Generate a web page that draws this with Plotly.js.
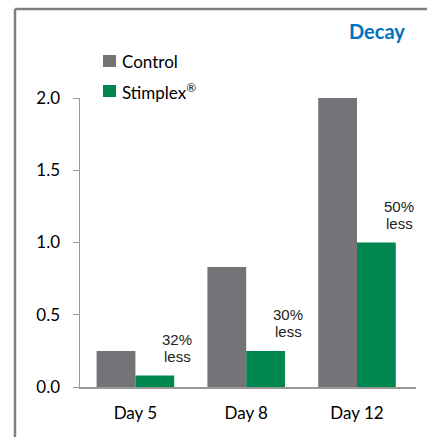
<!DOCTYPE html>
<html><head><meta charset="utf-8">
<script src="https://cdn.plot.ly/plotly-3.0.1.min.js"></script>
<style>html,body{margin:0;padding:0;background:#fff;}#c{width:427px;height:437px;}</style>
</head><body><div id="c"></div>
<script>
const categories = ["Day 5", "Day 8", "Day 12"];
const controlValues = [0.25, 0.83, 2.0];
const stimplexValues = [0.08, 0.25, 1.0];
const seriesNames = ["Control", "Stimplex<sup>®</sup>"];
const reductionPercents = ["32%", "30%", "50%"];
const reductionWord = "less";
const tickValues = [0, 0.5, 1.0, 1.5, 2.0];

const gray = "#747378", green = "#00874F";
const traces = [
  {type: "bar", x: categories, y: controlValues, name: seriesNames[0], marker: {color: gray}},
  {type: "bar", x: categories, y: stimplexValues, name: seriesNames[1], marker: {color: green}}
];
const annFont = {family: "Liberation Sans, Arial", size: 15, color: "#222"};
const annotations = [];
categories.forEach((c, i) => {
  annotations.push({x: c, y: stimplexValues[i], xref: "x", yref: "y", text: reductionPercents[i],
    showarrow: false, xshift: 42, yshift: 36, yanchor: "middle", font: annFont});
  annotations.push({x: c, y: stimplexValues[i], xref: "x", yref: "y", text: reductionWord,
    showarrow: false, xshift: 42, yshift: 19, yanchor: "middle", font: annFont});
});
const px = x => (x - 80) / 336, py = y => (387 - y) / 289;
annotations.push({xref: "paper", yref: "paper", x: px(407), y: py(31), xanchor: "right", yanchor: "middle",
  text: "<b>Decay</b>", showarrow: false, font: {family: "Lato, sans-serif", size: 20, color: "#0070C0"}});
const legendColors = [gray, green];
const legendY = [61, 91];
const shapes = [
  {type: "line", xref: "paper", yref: "paper", x0: px(15), x1: px(15), y0: py(9), y1: py(440), line: {color: "#7f7f7f", width: 2.5}},
  {type: "line", xref: "paper", yref: "paper", x0: px(15), x1: px(430), y0: py(9), y1: py(9), line: {color: "#7f7f7f", width: 2.5}}
];
seriesNames.forEach((n, i) => {
  shapes.push({type: "rect", xref: "paper", yref: "paper", x0: px(103), x1: px(116), y0: py(legendY[i] - 6), y1: py(legendY[i] + 6),
    fillcolor: legendColors[i], line: {width: 0}});
  annotations.push({xref: "paper", yref: "paper", x: px(120), y: py(legendY[i]), xanchor: "left", yanchor: "middle",
    text: n, showarrow: false, font: {family: "Lato, sans-serif", size: 17, color: "#000"}});
});
const layout = {
  width: 427, height: 437,
  margin: {l: 80, r: 11, t: 98, b: 50, autoexpand: false},
  paper_bgcolor: "#fff", plot_bgcolor: "#fff",
  barmode: "group", bargap: 0.3, bargroupgap: 0,
  font: {family: "Lato, sans-serif", color: "#000"},
  xaxis: {showline: true, linecolor: "#999", linewidth: 1.5, ticks: "", tickfont: {size: 17}, ticklabelstandoff: 10, fixedrange: true},
  yaxis: {range: [0, 2], tickvals: tickValues, tickformat: ".1f", showgrid: false, zeroline: false,
    showline: true, linecolor: "#999", linewidth: 1.5, ticks: "outside", ticklen: 6, tickcolor: "#999",
    tickfont: {size: 17}, ticklabelstandoff: 9, fixedrange: true},
  showlegend: false,
  annotations: annotations,
  shapes: shapes
};
Plotly.newPlot("c", traces, layout, {displayModeBar: false, staticPlot: true});
</script></body></html>
